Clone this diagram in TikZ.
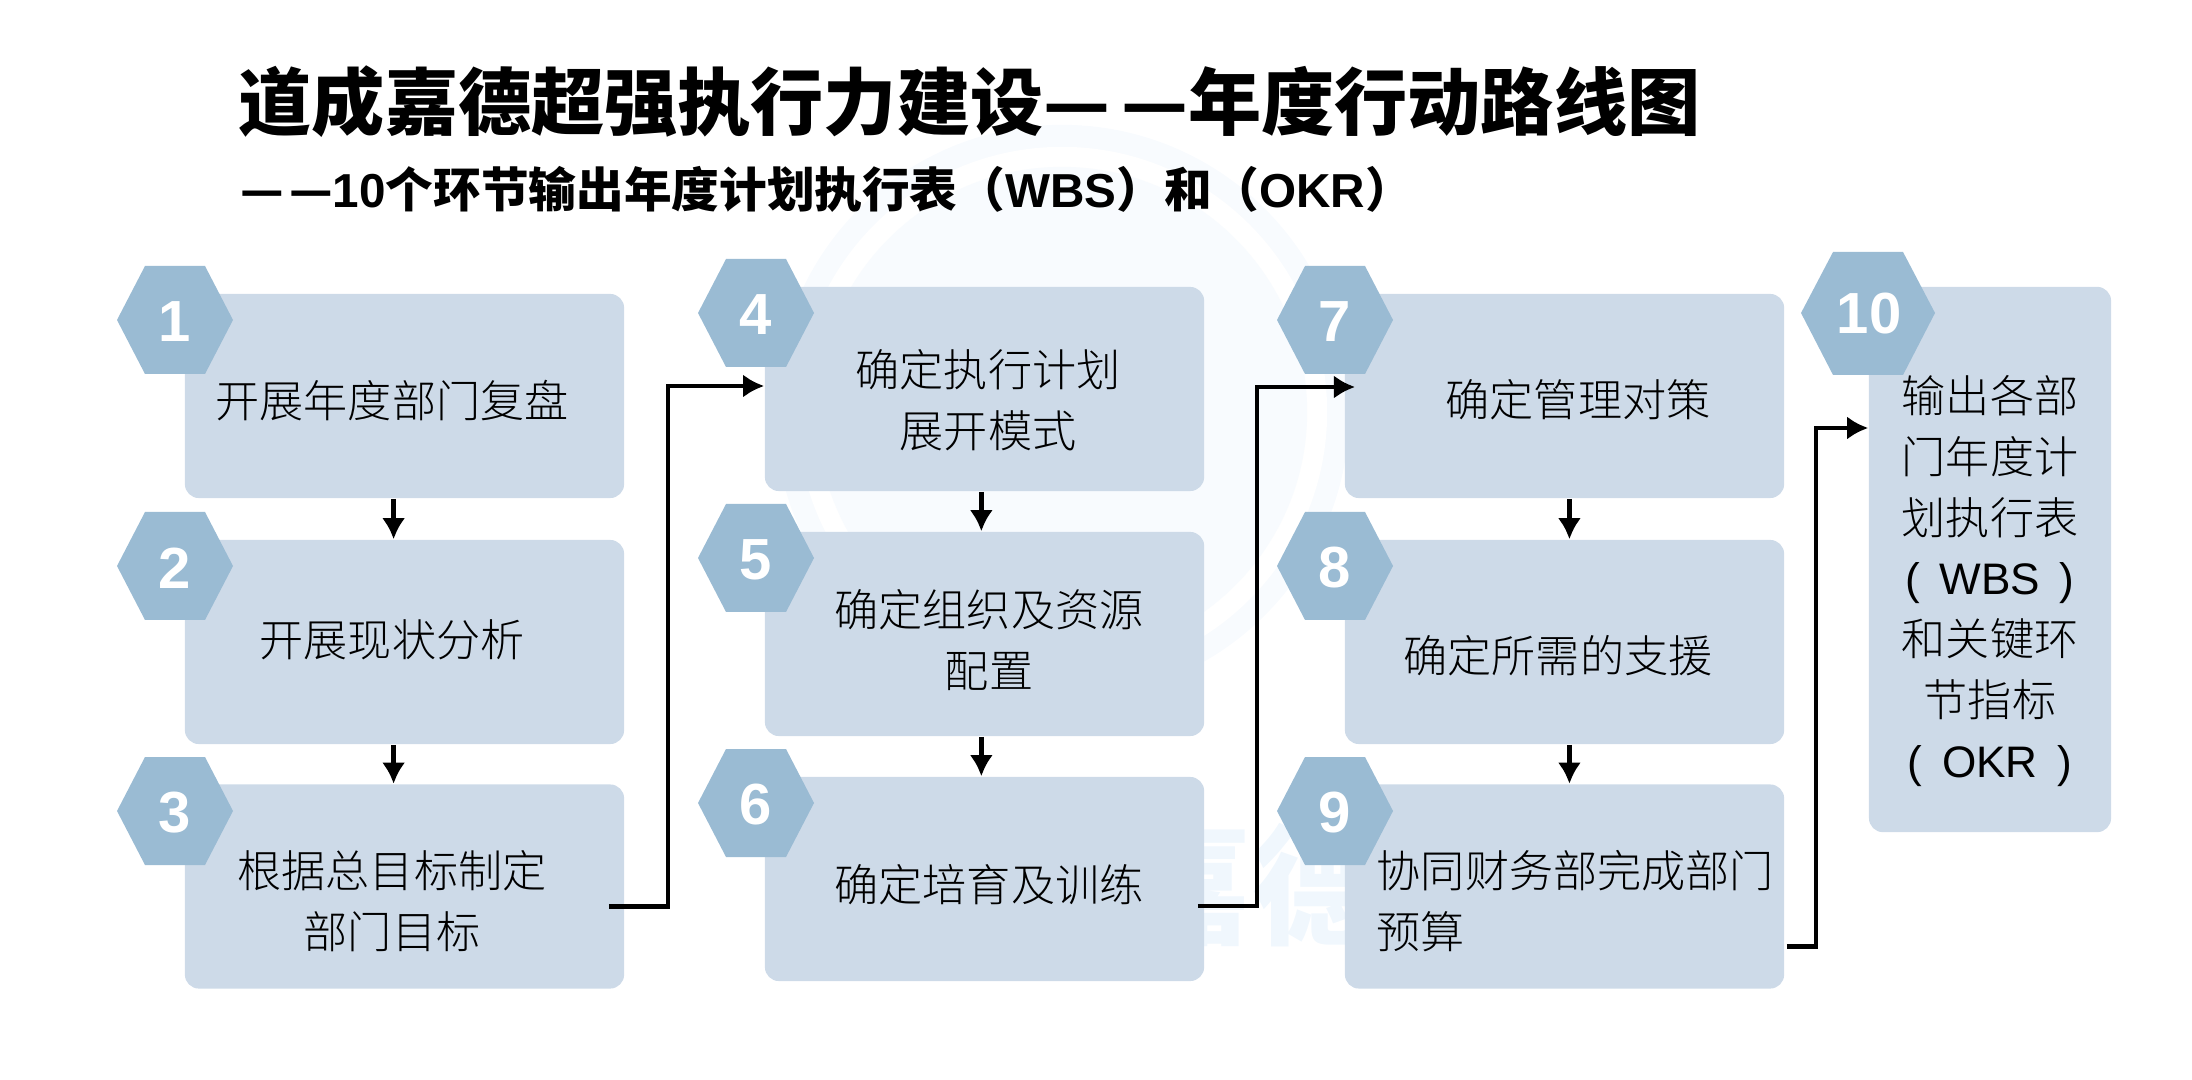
\documentclass[tikz,border=0pt]{standalone}
\usepackage{fontspec}
\setmainfont{Liberation Sans}
\newfontfamily\cjk{Noto Sans CJK SC}
\newfontfamily\cjklight{Noto Sans CJK SC Light}
\usetikzlibrary{positioning,arrows.meta}
\definecolor{boxblue}{HTML}{CDDAE8}
\definecolor{hexblue}{HTML}{9ABBD3}
\definecolor{markpale}{HTML}{F8FBFE}
\definecolor{markblue}{HTML}{F0F7FD}
\newcommand{\hexbadge}[4]{% name, x, y, number
  \fill[hexblue] (#2-58,#3) -- (#2-30,#3-54) -- (#2+30,#3-54) -- (#2+58,#3)
    -- (#2+30,#3+54) -- (#2-30,#3+54) -- cycle;
  \node[hexnum] (#1) at (#2,#3+2) {#4};
}
\begin{document}
\begin{tikzpicture}[>={Latex[length=6pt,width=6.6pt]},x=0.01cm,y=-0.01cm,
  stepbox/.style={fill=boxblue,rounded corners=1.4mm,minimum width=4.39cm,minimum height=2.04cm,inner sep=0pt},
  hexnum/.style={white,font=\bfseries\fontsize{16.5}{17}\selectfont,inner sep=0pt},
  steptext/.style={font=\cjklight\fontsize{12.55}{17.3}\selectfont,align=center,inner sep=0pt},
  link/.style={line width=1.4pt,->}]
  \useasboundingbox (0,0) rectangle (2192,1080);
  % faint mark behind the steps
  \fill[markpale] (1062,412) circle (2.87cm);
  \fill[white] (1062,412) circle (2.65cm);
  \fill[markpale] (1062,412) circle (2.45cm);
  \node[text=markblue,font=\cjk\bfseries\fontsize{37}{37}\selectfont,inner sep=0pt] (mark) at (1252,885) {嘉德};
  % title
  \node[anchor=west,inner sep=0pt,font=\cjk\bfseries\fontsize{20.8}{24}\selectfont] (title) at (238,102) {道成嘉德超强执行力建设—\hspace{3.2pt}—年度行动路线图};
  \node[anchor=west,inner sep=0pt,font=\bfseries\fontsize{13.55}{16}\selectfont] (subtitle) at (240,189)
    {{\cjk —\hspace{1.4pt}—}10{\cjk 个环节输出年度计划执行表（}WBS{\cjk ）和（}OKR{\cjk ）}};
  % boxes
  \node[stepbox] (b1) at (404.5,396) {};
  \node[stepbox] (b2) at (404.5,642) {};
  \node[stepbox] (b3) at (404.5,886.5) {};
  \node[stepbox] (b4) at (984.5,389) {};
  \node[stepbox] (b5) at (984.5,634) {};
  \node[stepbox] (b6) at (984.5,879) {};
  \node[stepbox] (b7) at (1564.5,396) {};
  \node[stepbox] (b8) at (1564.5,642) {};
  \node[stepbox] (b9) at (1564.5,886.5) {};
  \node[stepbox,minimum width=2.42cm,minimum height=5.45cm] (b10) at (1990,559.5) {};
  % badges
  \hexbadge{h1}{175}{320}{1}
  \hexbadge{h2}{175}{566}{2}
  \hexbadge{h3}{175}{811}{3}
  \hexbadge{h4}{756}{313}{4}
  \hexbadge{h5}{756}{558}{5}
  \hexbadge{h6}{756}{803}{6}
  \hexbadge{h7}{1335}{320}{7}
  \hexbadge{h8}{1335}{566}{8}
  \hexbadge{h9}{1335}{811}{9}
  \fill[hexblue] (1801,313) -- (1833,252) -- (1903,252) -- (1935,313) -- (1903,375) -- (1833,375) -- cycle;
  \node[hexnum] (h10) at (1869,314) {10};
  % texts
  \node[steptext] (t1) at (392,401) {开展年度部门复盘};
  \node[steptext] (t2) at (392,640) {开展现状分析};
  \node[steptext] (t3) at (392,901) {根据总目标制定\\部门目标};
  \node[steptext] (t4) at (988,400) {确定执行计划\\展开模式};
  \node[steptext] (t5) at (989,640) {确定组织及资源\\配置};
  \node[steptext] (t6) at (989,885) {确定培育及训练};
  \node[steptext] (t7) at (1578,400) {确定管理对策};
  \node[steptext] (t8) at (1558,656) {确定所需的支援};
  \node[steptext,anchor=west,align=left] (t9) at (1376,901) {协同财务部完成部门\\预算};
  \node[steptext] (t10) at (1990,581) {输出各部\\门年度计\\划执行表\\{\rmfamily ( \,WBS\, )}\\和关键环\\节指标\\{\rmfamily ( \,OKR\, )}};
  % connectors
  \draw[link] ([xshift=-3.1pt]b1.south) -- ([xshift=-3.1pt]b2.north);
  \draw[link] ([xshift=-3.1pt]b2.south) -- ([xshift=-3.1pt]b3.north);
  \draw[link] ([xshift=-.9pt]b4.south) -- ([xshift=-.9pt]b5.north);
  \draw[link] ([xshift=-.9pt]b5.south) -- ([xshift=-.9pt]b6.north);
  \draw[link] ([xshift=1.4pt]b7.south) -- ([xshift=1.4pt]b8.north);
  \draw[link] ([xshift=1.4pt]b8.south) -- ([xshift=1.4pt]b9.north);
  \coordinate (v1) at (668,386);
  \coordinate (v2) at (1257,387);
  \coordinate (v3) at (1816,428);
  \draw[link] ([shift={(-16,20)}]b3.east) -| (v1) -- (b4.west |- v1);
  \draw[link] ([shift={(-7,27)}]b6.east) -| (v2) -- ([xshift=3.1pt]b7.west |- v2);
  \draw[link] ([shift={(2,60)}]b9.east) -| (v3) -- (b10.west |- v3);
\end{tikzpicture}
\end{document}
